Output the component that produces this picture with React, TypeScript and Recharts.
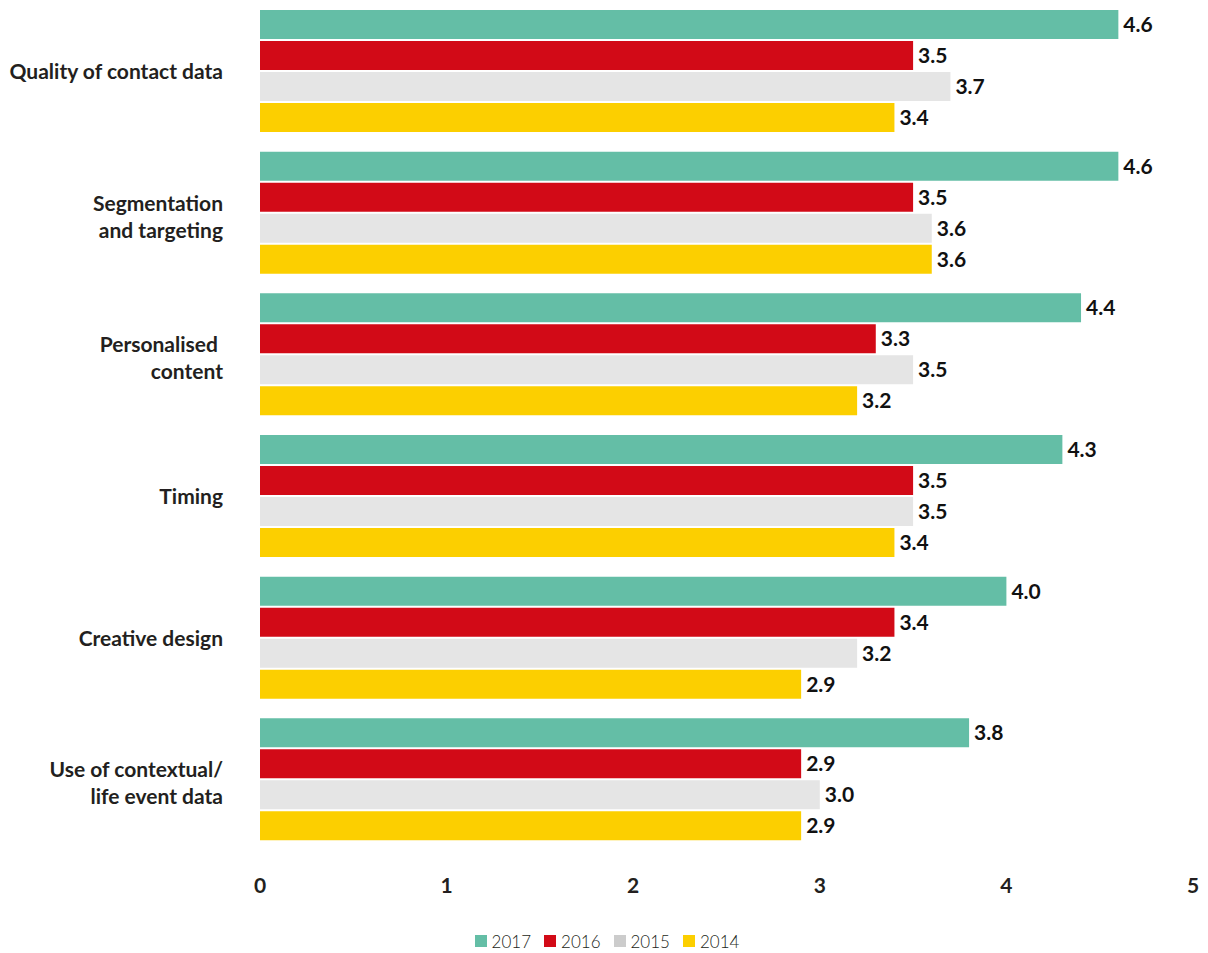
import { BarChart, Bar, XAxis, YAxis, Legend, LabelList } from 'recharts';

// categories (line breaks mark where the axis label wraps)
const categories = [
  'Quality of contact data',
  'Segmentation\nand targeting',
  'Personalised \ncontent',
  'Timing',
  'Creative design',
  'Use of contextual/\nlife event data',
];

const values2017 = [4.6, 4.6, 4.4, 4.3, 4.0, 3.8];
const values2016 = [3.5, 3.5, 3.3, 3.5, 3.4, 2.9];
const values2015 = [3.7, 3.6, 3.5, 3.5, 3.2, 3.0];
const values2014 = [3.4, 3.6, 3.2, 3.4, 2.9, 2.9];

const xTicks = [0, 1, 2, 3, 4, 5];

const series = [
  { key: 'y2017', name: '2017', color: '#64bea6', legendColor: '#64bea6' },
  { key: 'y2016', name: '2016', color: '#d20a17', legendColor: '#d20a17' },
  { key: 'y2015', name: '2015', color: '#e5e5e5', legendColor: '#cccccc' },
  { key: 'y2014', name: '2014', color: '#fccf00', legendColor: '#fccf00' },
];

const data = categories.map((name, i) => ({
  name,
  y2017: values2017[i],
  y2016: values2016[i],
  y2015: values2015[i],
  y2014: values2014[i],
}));

const FONT = 'Lato, "Open Sans", sans-serif';
const TEXT = '#231f20';

const CategoryTick = ({ x, y, payload }: any) => {
  const lines: string[] = String(payload.value).split('\n');
  const offsets = lines.length === 1 ? [7] : [-3, 24];
  return (
    <text
      x={x}
      y={y}
      textAnchor="end"
      fill={TEXT}
      fontSize={21}
      fontWeight={700}
      fontFamily={FONT}
      style={{ whiteSpace: 'pre' }}
    >
      {lines.map((line, i) => (
        <tspan key={i} x={x} y={y + offsets[i]}>
          {line}
        </tspan>
      ))}
    </text>
  );
};

const renderLegend = () => (
  <div
    style={{
      display: 'flex',
      justifyContent: 'center',
      alignItems: 'center',
      height: 24,
      paddingLeft: 6,
      fontFamily: FONT,
      fontSize: 17,
      fontWeight: 300,
      color: TEXT,
    }}
  >
    {series.map((s, i) => (
      <div
        key={s.key}
        style={{ display: 'flex', alignItems: 'center', marginRight: i < series.length - 1 ? 13 : 0 }}
      >
        <span style={{ width: 12, height: 12, background: s.legendColor, marginRight: 5 }} />
        <span>{s.name}</span>
      </div>
    ))}
  </div>
);

export default function App() {
  return (
    <div style={{ position: 'absolute', left: 0, top: 0 }}>
      <BarChart
        width={1208}
        height={953}
        data={data}
        layout="vertical"
        margin={{ top: 1, right: 15, left: 0, bottom: 0 }}
        barCategoryGap={9}
        barGap={2}
      >
        <XAxis
          type="number"
          domain={[0, 5]}
          ticks={xTicks}
          interval={0}
          axisLine={false}
          tickLine={false}
          tickMargin={21}
          height={78}
          tick={{ fill: TEXT, fontSize: 21, fontWeight: 700, fontFamily: FONT }}
        />
        <YAxis
          type="category"
          dataKey="name"
          width={260}
          axisLine={false}
          tickLine={false}
          tickSize={0}
          tickMargin={37}
          interval={0}
          tick={<CategoryTick />}
        />
        <Legend
          verticalAlign="bottom"
          height={24}
          wrapperStyle={{ left: 0, width: 1208 }}
          content={renderLegend}
        />
        {series.map((s) => (
          <Bar key={s.key} dataKey={s.key} name={s.name} fill={s.color} isAnimationActive={false}>
            <LabelList
              dataKey={s.key}
              position="right"
              offset={5}
              fill="#111"
              fontSize={21}
              fontWeight={700}
              fontFamily={FONT}
              formatter={(v: any) => Number(v).toFixed(1)}
            />
          </Bar>
        ))}
      </BarChart>
    </div>
  );
}
